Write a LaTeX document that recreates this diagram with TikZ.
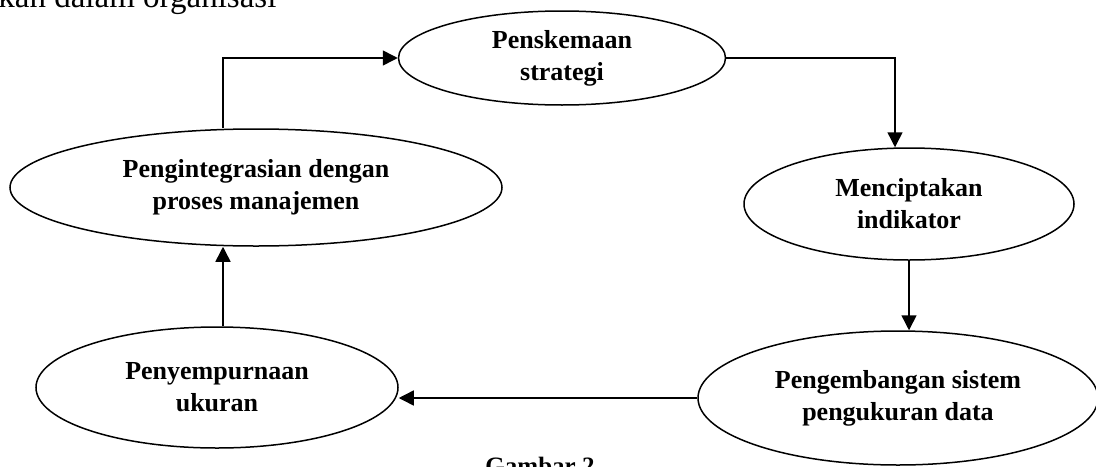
\documentclass[tikz,border=0pt]{standalone}
\usepackage{fontspec}
\setmainfont{Liberation Serif}
\usetikzlibrary{arrows.meta,shapes.geometric}
\tikzset{
  oval/.style={draw,ellipse,line width=0.75pt,inner sep=0pt,align=center,font=\bfseries\fontsize{13}{16}\selectfont},
  flow/.style={-{Triangle[length=7.5pt,width=7.5pt]},line width=0.75pt},
  plain/.style={inner sep=0pt}}

\begin{document}
\begin{tikzpicture}[x=0.5pt,y=-0.5pt]
  \useasboundingbox (0,0) rectangle (1096,466);
  \clip (0,0) rectangle (1096,466);
  % the five steps of the cycle
  \node[oval,minimum width=163.5pt,minimum height=47pt] (strat) at (562,58) {Penskemaan\\strategi};
  \node[oval,minimum width=165pt,minimum height=56pt] (indik) at (909,204) {Menciptakan\\indikator};
  \node[oval,minimum width=200pt,minimum height=67pt] (sistem) at (898,398) {Pengembangan sistem\\pengukuran data};
  \node[oval,minimum width=181pt,minimum height=60.5pt] (ukuran) at (217,387.5) {Penyempurnaan\\ukuran};
  \node[oval,minimum width=246pt,minimum height=58.5pt] (integ) at (256,187.5) {Pengintegrasian dengan\\proses manajemen};
  % the cycle, clockwise
  \draw[flow] ([xshift=-16.5pt]integ.north) |- (strat.west);
  \draw[flow] (strat.east) -| ([xshift=-7pt]indik.north);
  \draw[flow] (indik.south) -- (indik.south |- sistem.north);
  \draw[flow] (sistem.west) -- (sistem.west -| ukuran.east);
  \draw[flow] ([xshift=3pt]ukuran.north) -- ([xshift=3pt]ukuran.north |- integ.south);
  % running text cut by the page
  \node[plain,anchor=base west,font=\fontsize{16.5}{18}\selectfont] (lead) at (-2,8) {kan dalam organisasi};
  \node[plain,anchor=base,font=\bfseries\fontsize{12.5}{14}\selectfont] (cap) at (540,474) {Gambar 2};
\end{tikzpicture}
\end{document}
